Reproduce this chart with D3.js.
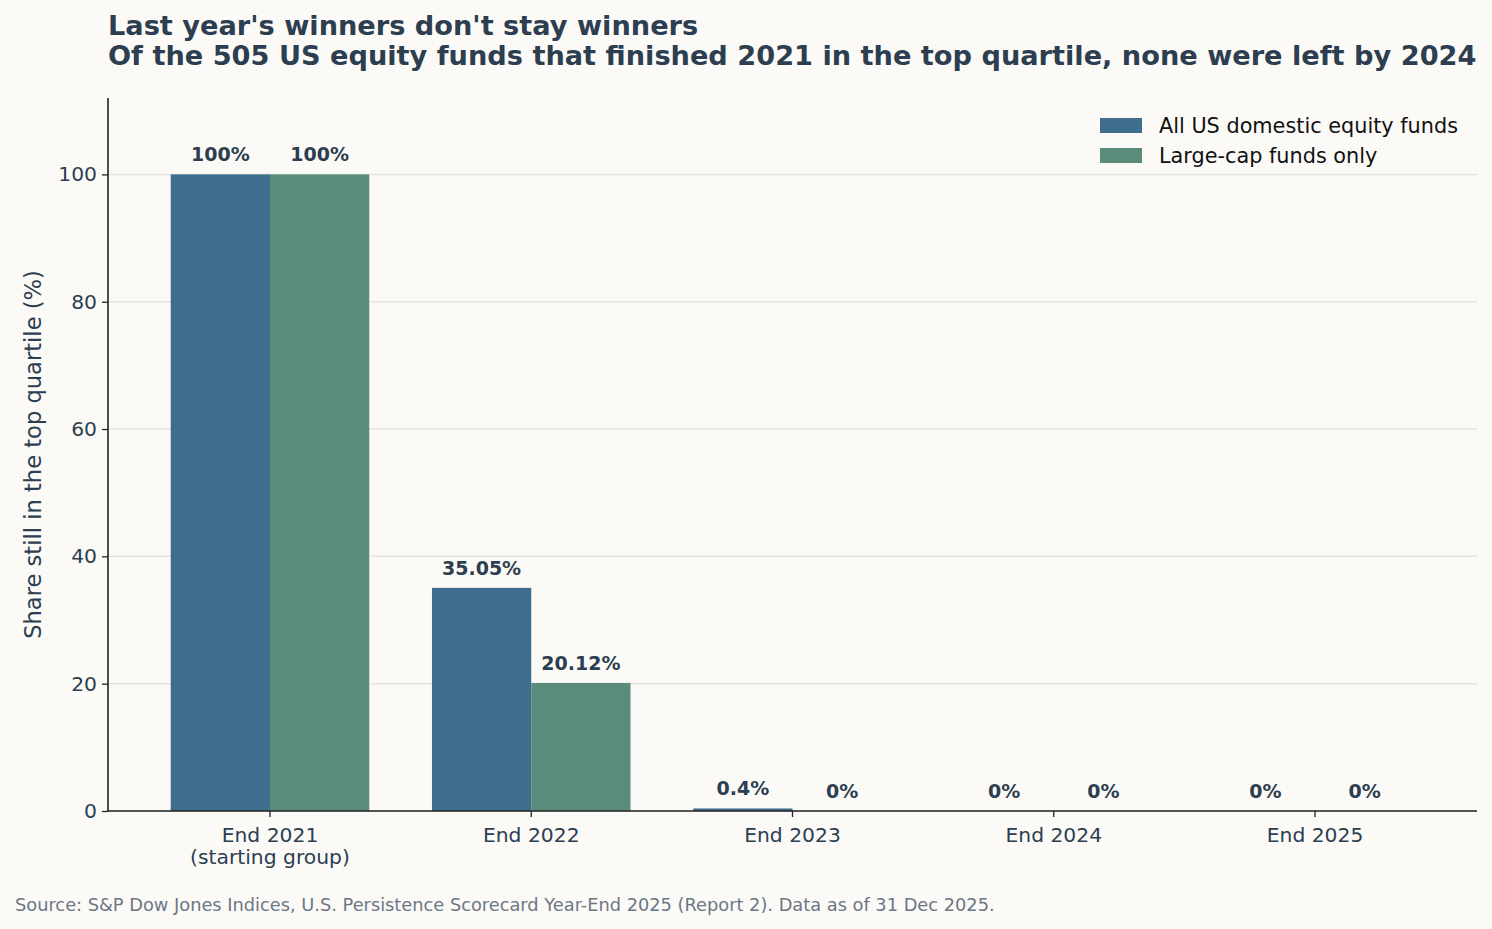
<!DOCTYPE html>
<html>
<head>
<meta charset="utf-8">
<script src="https://cdn.jsdelivr.net/npm/d3@7"></script>
<style>
  html, body { margin: 0; padding: 0; background: #fbfaf7; }
  svg { display: block; font-family: "DejaVu Sans", sans-serif; }
</style>
</head>
<body>
<script>
// data
const categories = ['End 2021\n(starting group)', 'End 2022', 'End 2023', 'End 2024', 'End 2025'];
const seriesNames = ['All US domestic equity funds', 'Large-cap funds only'];
const allFunds = [100, 35.05, 0.4, 0, 0];
const largeCap = [100, 20.12, 0, 0, 0];
const valueLabels = [
  ['100%', '35.05%', '0.4%', '0%', '0%'],
  ['100%', '20.12%', '0%', '0%', '0%']
];
const yTicks = [0, 20, 40, 60, 80, 100];

const colors = ['#3e6d8d', '#5b8b7b'];
const textColor = '#2c3e50';

const width = 1492, height = 929;
const margin = {top: 98, right: 15, bottom: 118, left: 108};

const svg = d3.select('body')
  .append('svg')
  .attr('width', width)
  .attr('height', height);

svg.append('rect')
  .attr('width', width)
  .attr('height', height)
  .attr('fill', '#fbfaf7');

const x0 = d3.scaleBand()
  .domain(d3.range(categories.length))
  .range([margin.left, width - margin.right])
  .paddingInner(0.24)
  .paddingOuter(0.24);

const x1 = d3.scaleBand()
  .domain(d3.range(seriesNames.length))
  .range([0, x0.bandwidth()]);

const y = d3.scaleLinear()
  .domain([0, 112])
  .range([height - margin.bottom, margin.top]);

/* grid lines */
svg.append('g')
  .selectAll('line')
  .data(yTicks)
  .enter()
  .append('line')
  .attr('x1', margin.left)
  .attr('x2', width - margin.right)
  .attr('y1', d => y(d))
  .attr('y2', d => y(d))
  .attr('stroke', '#e4e3df')
  .attr('stroke-width', 1.5);

/* bars */
const series = [allFunds, largeCap];
const barData = [];
series.forEach((vals, s) => vals.forEach((v, i) => barData.push({s, i, v, label: valueLabels[s][i]})));

svg.append('g')
  .selectAll('rect')
  .data(barData)
  .enter()
  .append('rect')
  .attr('x', d => x0(d.i) + x1(d.s))
  .attr('y', d => y(d.v))
  .attr('width', x1.bandwidth())
  .attr('height', d => y(0) - y(d.v))
  .attr('fill', d => colors[d.s]);

svg.append('g')
  .selectAll('text')
  .data(barData)
  .enter()
  .append('text')
  .attr('x', d => x0(d.i) + x1(d.s) + x1.bandwidth() / 2)
  .attr('y', d => y(d.v) - 13)
  .attr('text-anchor', 'middle')
  .attr('font-size', '19px')
  .attr('font-weight', 'bold')
  .attr('fill', textColor)
  .text(d => d.label);

/* axes */
const yAxis = svg.append('g')
  .attr('transform', `translate(${margin.left},0)`)
  .call(d3.axisLeft(y).tickValues(yTicks).tickSize(6).tickPadding(5));

const xAxis = svg.append('g')
  .attr('transform', `translate(0,${y(0)})`)
  .call(d3.axisBottom(x0).tickSize(6).tickPadding(5).tickFormat(() => ''));

[yAxis, xAxis].forEach(g => {
  g.select('.domain').attr('stroke', '#222').attr('stroke-width', 1.6);
  g.selectAll('.tick line').attr('stroke', '#222').attr('stroke-width', 1.3);
  g.selectAll('text')
    .attr('font-size', '20.3px')
    .attr('font-family', '"DejaVu Sans", sans-serif')
    .attr('fill', textColor);
});
yAxis.select('.domain').attr('d', `M0,${y(0)}V${margin.top}`);
xAxis.select('.domain').attr('d', `M${margin.left},0H${width - margin.right}`);

xAxis.selectAll('.tick text').each(function(d) {
  const t = d3.select(this).text(null).attr('y', 17);
  categories[d].split('\n').forEach((line, k) => {
    t.append('tspan')
      .attr('x', 0)
      .attr('dy', k === 0 ? '0.71em' : '1.08em')
      .text(line);
  });
});

/* y label */
svg.append('text')
  .attr('transform', `translate(41,${(margin.top + y(0)) / 2}) rotate(-90)`)
  .attr('text-anchor', 'middle')
  .attr('font-size', '22.6px')
  .attr('fill', textColor)
  .text('Share still in the top quartile (%)');

/* title */
const title = svg.append('text')
  .attr('x', margin.left)
  .attr('y', 35)
  .attr('font-size', '27.2px')
  .attr('font-weight', 'bold')
  .attr('fill', textColor);
title.append('tspan').attr('x', margin.left).text("Last year's winners don't stay winners");
title.append('tspan').attr('x', margin.left).attr('dy', 30)
  .text('Of the 505 US equity funds that finished 2021 in the top quartile, none were left by 2024');

/* legend */
const legend = svg.append('g')
  .attr('transform', 'translate(1100,118)');

legend.selectAll('rect')
  .data(seriesNames)
  .enter()
  .append('rect')
  .attr('x', 0)
  .attr('y', (d, i) => i * 30)
  .attr('width', 42)
  .attr('height', 15)
  .attr('fill', (d, i) => colors[i]);

legend.selectAll('text')
  .data(seriesNames)
  .enter()
  .append('text')
  .attr('x', 59)
  .attr('y', (d, i) => i * 30 + 15)
  .attr('font-size', '20.8px')
  .attr('fill', '#111')
  .text(d => d);

/* source */
svg.append('text')
  .attr('x', 15)
  .attr('y', 911)
  .attr('font-size', '17.8px')
  .attr('fill', '#6b7785')
  .text('Source: S&P Dow Jones Indices, U.S. Persistence Scorecard Year-End 2025 (Report 2). Data as of 31 Dec 2025.');
</script>
</body>
</html>
